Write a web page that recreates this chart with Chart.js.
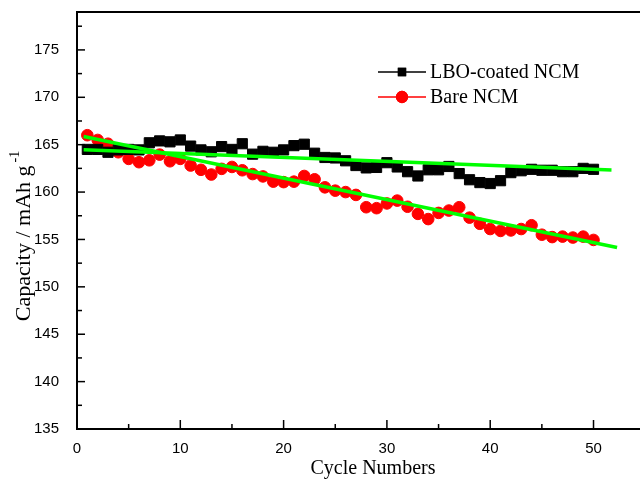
<!DOCTYPE html>
<html>
<head>
<meta charset="utf-8">
<script src="https://cdn.jsdelivr.net/npm/chart.js@4/dist/chart.umd.min.js"></script>
<style>
html,body{margin:0;padding:0;background:#fff;}
#wrap{width:640px;height:481px;position:relative;overflow:hidden;}
canvas{display:block;}
</style>
</head>
<body>
<div id="wrap"><canvas id="c" width="640" height="481"></canvas></div>
<script>
// ---- data ----
const cycles = [1,2,3,4,5,6,7,8,9,10,11,12,13,14,15,16,17,18,19,20,21,22,23,24,25,26,27,28,29,30,31,32,33,34,35,36,37,38,39,40,41,42,43,44,45,46,47,48,49,50];
const lboCapacity = [164.5,164.5,164.2,164.45,164.5,164.45,165.2,165.4,165.3,165.5,164.85,164.45,164.25,164.8,164.5,165.1,164.0,164.3,164.2,164.45,164.9,165.05,164.1,163.65,163.6,163.3,162.8,162.55,162.6,163.1,162.65,162.15,161.7,162.35,162.35,162.7,161.95,161.3,161.0,160.9,161.2,162.05,162.25,162.4,162.3,162.3,162.15,162.15,162.5,162.4];
const bareCapacity = [166.0,165.5,165.1,164.2,163.5,163.15,163.35,163.95,163.25,163.5,162.8,162.35,161.85,162.45,162.65,162.3,161.9,161.65,161.1,161.05,161.1,161.7,161.35,160.5,160.15,160.0,159.7,158.4,158.3,158.8,159.1,158.45,157.7,157.15,157.8,158.05,158.4,157.3,156.65,156.1,155.9,155.95,156.1,156.5,155.5,155.25,155.3,155.2,155.3,154.95];
const lboFitX = [0.64, 51.74];
const lboFitY = [164.46, 162.33];
const bareFitX = [0.64, 52.28];
const bareFitY = [165.87, 154.16];
const xTickLabels = [0,10,20,30,40,50];
const yTickLabels = [135,140,145,150,155,160,165,170,175];
const seriesNames = ['LBO-coated NCM','Bare NCM'];
const xTitle = 'Cycle Numbers';
const yTitleMain = 'Capacity / mAh g';
const yTitleSup = '-1';

const toPts = (xs, ys) => xs.map((v,i)=>({x:v, y:ys[i]}));

const SANS = '"Liberation Sans", Arial, sans-serif';
const SERIF = '"Liberation Serif", "Times New Roman", serif';

const decor = {
  id: 'decor',
  afterDraw(chart) {
    const {ctx, chartArea: a, scales: {x, y}} = chart;
    ctx.save();
    ctx.strokeStyle = '#000';
    ctx.lineWidth = 1.5;
    // bottom ticks (inward)
    for (let v = 0; v <= 50; v += 5) {
      const px = x.getPixelForValue(v);
      const len = (v % 10 === 0) ? 9 : 5;
      ctx.beginPath(); ctx.moveTo(px, a.bottom); ctx.lineTo(px, a.bottom - len); ctx.stroke();
    }
    // left ticks (inward)
    for (let v = 135; v <= 177.5; v += 2.5) {
      const py = y.getPixelForValue(v);
      const len = (v % 5 === 0) ? 8 : 5;
      ctx.beginPath(); ctx.moveTo(a.left, py); ctx.lineTo(a.left + len, py); ctx.stroke();
    }
    // top border
    ctx.lineWidth = 2;
    ctx.beginPath(); ctx.moveTo(a.left - 1, a.top); ctx.lineTo(a.right, a.top); ctx.stroke();

    // titles
    ctx.fillStyle = '#000';
    ctx.font = '20px ' + SERIF;
    ctx.textAlign = 'center';
    ctx.textBaseline = 'middle';
    ctx.fillText(xTitle, 373, 469);

    ctx.save();
    ctx.translate(23, 236);
    ctx.rotate(-Math.PI / 2);
    ctx.font = '22px ' + SERIF;
    const wMain = ctx.measureText(yTitleMain).width;
    ctx.font = '14px ' + SERIF;
    const wSup = ctx.measureText(yTitleSup).width;
    const start = -(wMain + 3 + wSup) / 2;
    ctx.textAlign = 'left';
    ctx.textBaseline = 'alphabetic';
    ctx.font = '22px ' + SERIF;
    ctx.fillText(yTitleMain, start, 7);
    ctx.font = '14px ' + SERIF;
    ctx.fillText(yTitleSup, start + wMain + 3, -4);
    ctx.restore();

    // legend
    const ds = chart.data.datasets;
    const rows = [{d: ds[1], y: 72, r: 5}, {d: ds[2], y: 97, r: 5.5}];
    rows.forEach((row, i) => {
      ctx.strokeStyle = row.d.borderColor;
      ctx.lineWidth = 1.3;
      ctx.beginPath(); ctx.moveTo(378, row.y); ctx.lineTo(426, row.y); ctx.stroke();
      Chart.helpers.drawPoint(ctx, {
        pointStyle: row.d.pointStyle, radius: row.r, rotation: 0, borderWidth: 1
      }, 402, row.y);
      ctx.fillStyle = row.d.backgroundColor;
      ctx.strokeStyle = row.d.borderColor;
      ctx.fill(); ctx.stroke();
      ctx.fillStyle = '#000';
      ctx.font = '20px ' + SERIF;
      ctx.textAlign = 'left';
      ctx.textBaseline = 'middle';
      ctx.fillText(seriesNames[i], 430, row.y + 1);
    });
    ctx.restore();
  }
};

new Chart(document.getElementById('c'), {
  type: 'scatter',
  data: {
    datasets: [
      {
        label: 'LBO fit', data: toPts(lboFitX, lboFitY), showLine: true,
        borderColor: '#00ff00', backgroundColor: '#00ff00', borderWidth: 3.5,
        pointRadius: 0, order: 0
      },
      {
        label: seriesNames[0], data: toPts(cycles, lboCapacity), showLine: false,
        pointStyle: 'rect', pointRadius: 7.2, borderWidth: 1,
        borderColor: '#000000', backgroundColor: '#000000', order: 1
      },
      {
        label: seriesNames[1], data: toPts(cycles, bareCapacity), showLine: false,
        pointStyle: 'circle', pointRadius: 5.8, borderWidth: 1,
        borderColor: '#ff0000', backgroundColor: '#ff0000', order: 2
      },
      {
        label: 'Bare fit', data: toPts(bareFitX, bareFitY), showLine: true,
        borderColor: '#00ff00', backgroundColor: '#00ff00', borderWidth: 3.5,
        pointRadius: 0, order: 0
      }
    ]
  },
  options: {
    responsive: false,
    animation: false,
    devicePixelRatio: 1,
    layout: {autoPadding: false, padding: {top: 12, left: 0, right: 0, bottom: 0}},
    plugins: {legend: {display: false}, tooltip: {enabled: false}},
    scales: {
      x: {
        type: 'linear', min: 0, max: 54.5,
        afterBuildTicks: s => { s.ticks = xTickLabels.map(v => ({value: v})); },
        afterFit: s => { s.height = 52; s.paddingLeft = 0; s.paddingRight = 0; },
        grid: {display: false},
        border: {display: true, color: '#000', width: 2},
        ticks: {color: '#000', font: {family: SANS, size: 15}, padding: 3, maxRotation: 0, autoSkip: false}
      },
      y: {
        type: 'linear', min: 135, max: 179,
        afterBuildTicks: s => { s.ticks = yTickLabels.map(v => ({value: v})); },
        afterFit: s => { s.width = 77; s.paddingTop = 0; s.paddingBottom = 0; },
        grid: {display: false},
        border: {display: true, color: '#000', width: 2},
        ticks: {color: '#000', font: {family: SANS, size: 15}, padding: 10, autoSkip: false}
      }
    }
  },
  plugins: [decor]
});
</script>
</body>
</html>
